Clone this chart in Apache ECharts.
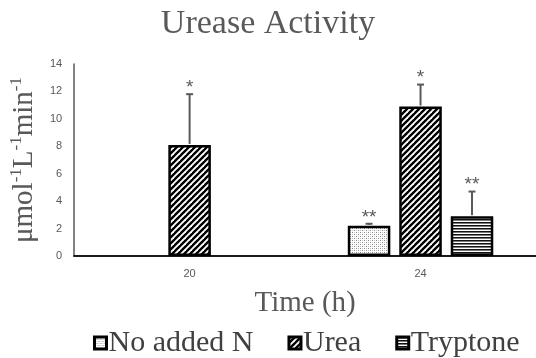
<!DOCTYPE html>
<html>
<head>
<meta charset="utf-8">
<script src="https://cdn.jsdelivr.net/npm/echarts@6/dist/echarts.min.js"></script>
<style>html,body{margin:0;padding:0;background:#fff}#c{width:536px;height:358px}</style>
</head>
<body>
<div id="c"></div>
<script>
// ---- data ----
var categories = ['20', '24'];
var seriesNames = ['No added N', 'Urea', 'Tryptone'];
var noN = [null, 2.2];
var urea = [8.1, 10.9];
var tryptone = [null, 2.9];
var noNErr = [null, 0.15];
var ureaErr = [3.7, 1.6];
var tryptoneErr = [null, 1.8];
var noNSig = ['', '**'];
var ureaSig = ['*', '*'];
var tryptoneSig = ['', '**'];
var yTicks = [0, 2, 4, 6, 8, 10, 12, 14];

// ---- patterns ----
function mk(w, h, draw) {
  var c = document.createElement('canvas'); c.width = w; c.height = h;
  var g = c.getContext('2d'); g.fillStyle = '#fff'; g.fillRect(0, 0, w, h); draw(g); return c;
}
var dotsC = mk(4, 4, function (g) {
  g.fillStyle = '#8a8a8a'; g.fillRect(0, 0, 1, 1); g.fillRect(2, 2, 1, 1);
  g.fillStyle = '#c4c4c4'; g.fillRect(2, 0, 1, 1); g.fillRect(0, 2, 1, 1);
});
var diagC = mk(6, 6, function (g) {
  g.strokeStyle = '#000'; g.lineWidth = 2.4;
  [0, 6, 12].forEach(function (s) { g.beginPath(); g.moveTo(s + 1, -1); g.lineTo(-1, s + 1); g.stroke(); });
});
var horC = mk(4, 3, function (g) {
  g.fillStyle = '#111'; g.fillRect(0, 0, 4, 1);
  g.fillStyle = '#7a7a7a'; g.fillRect(0, 1, 4, 1);
});
var patterns = [
  { image: dotsC, repeat: 'repeat' },
  { image: diagC, repeat: 'repeat' },
  { image: horC, repeat: 'repeat' }
];

var BAR_CAT_GAP = 0.37, BAR_GAP = 0.21, N = 3;
var serif = 'Liberation Serif';
var gray = '#595959';

function barSeries(name, vals, k) {
  return {
    name: name, type: 'bar', data: vals.map(function (v) { return v == null ? '-' : v; }),
    barGap: (BAR_GAP * 100) + '%', barCategoryGap: (BAR_CAT_GAP * 100) + '%',
    itemStyle: { color: patterns[k], borderColor: '#000', borderWidth: 2.5 },
    z: 2
  };
}
function errSeries(vals, errs, sigs, k) {
  var d = [];
  vals.forEach(function (v, i) { if (v != null) d.push([i, v, errs[i], sigs[i]]); });
  return {
    type: 'custom', data: d, z: 3, silent: true,
    encode: { x: 0, y: 1 },
    renderItem: function (params, api) {
      var i = api.value(0), v = api.value(1), e = api.value(2);
      var sig = d[params.dataIndex][3];
      var band = api.size([1, 0])[0];
      var usable = band * (1 - BAR_CAT_GAP);
      var w = usable / (N + (N - 1) * BAR_GAP);
      var off = -usable / 2 + w / 2 + k * w * (1 + BAR_GAP);
      var p0 = api.coord([i, v]);
      var p1 = api.coord([i, v + e]);
      var x = p0[0] + off;
      var st = { stroke: gray, lineWidth: 2 };
      return {
        type: 'group', children: [
          { type: 'line', shape: { x1: x, y1: p0[1] - 1, x2: x, y2: p1[1] }, style: st },
          { type: 'line', shape: { x1: x - 3.5, y1: p1[1], x2: x + 3.5, y2: p1[1] }, style: st },
          { type: 'text', style: { text: sig, x: x, y: p1[1] + 3, align: 'center', verticalAlign: 'bottom',
            fill: gray, fontSize: 19, fontFamily: 'Liberation Sans' } }
        ]
      };
    }
  };
}

var chart = echarts.init(document.getElementById('c'));
chart.setOption({
  animation: false,
  backgroundColor: '#fff',
  title: {
    text: 'Urease Activity', left: 'center', top: 2,
    textStyle: { fontFamily: serif, fontSize: 34, fontWeight: 'normal', color: gray }
  },
  legend: {
    data: seriesNames, top: 323, left: 88, icon: 'rect', itemWidth: 12, itemHeight: 12, itemGap: 34,
    textStyle: { fontFamily: serif, fontSize: 30, color: '#404040', padding: [0, 0, 0, -3] },
    itemStyle: { borderColor: '#000', borderWidth: 3 }
  },
  grid: { left: 69, right: 0, top: 64, bottom: 102, containLabel: false },
  xAxis: {
    type: 'category', data: categories,
    name: 'Time (h)', nameLocation: 'middle', nameGap: 33,
    nameTextStyle: { fontFamily: serif, fontSize: 29, color: gray },
    axisLine: { lineStyle: { color: '#1a1a1a', width: 2 } },
    axisTick: { show: false },
    axisLabel: { fontFamily: 'Liberation Sans', fontSize: 11, color: gray, margin: 12 }
  },
  yAxis: {
    type: 'value', min: yTicks[0], max: yTicks[yTicks.length - 1], interval: yTicks[1] - yTicks[0],
    name: '{b|μmol}{s|-1}{b|L}{s|-1}{b|min}{s|-1}', nameLocation: 'middle', nameGap: 30, nameRotate: 90,
    nameTextStyle: {
      color: gray,
      rich: {
        b: { fontFamily: serif, fontSize: 29, color: gray, verticalAlign: 'bottom', lineHeight: 31 },
        s: { fontFamily: serif, fontSize: 17, color: gray, verticalAlign: 'top', lineHeight: 31 }
      }
    },
    axisLine: { show: true, lineStyle: { color: gray, width: 1.5 } },
    axisTick: { show: false },
    splitLine: { show: false },
    axisLabel: { fontFamily: 'Liberation Sans', fontSize: 11, color: gray, margin: 12 }
  },
  series: [
    barSeries(seriesNames[0], noN, 0),
    barSeries(seriesNames[1], urea, 1),
    barSeries(seriesNames[2], tryptone, 2),
    errSeries(noN, noNErr, noNSig, 0),
    errSeries(urea, ureaErr, ureaSig, 1),
    errSeries(tryptone, tryptoneErr, tryptoneSig, 2)
  ]
});
</script>
</body>
</html>
